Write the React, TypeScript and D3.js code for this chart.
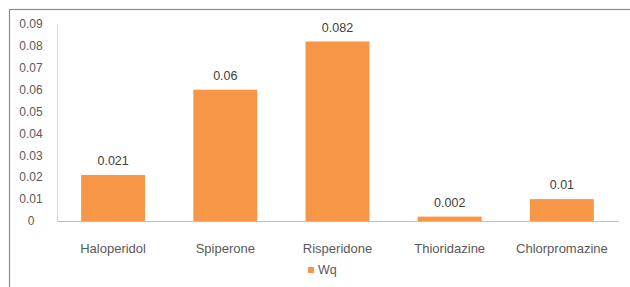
import React, { useEffect, useRef } from 'react';
import * as d3 from 'd3';

const categories = ['Haloperidol', 'Spiperone', 'Risperidone', 'Thioridazine', 'Chlorpromazine'];
const wqValues = [0.021, 0.06, 0.082, 0.002, 0.01];
const valueLabels = ['0.021', '0.06', '0.082', '0.002', '0.01'];
const yTicks = [0, 0.01, 0.02, 0.03, 0.04, 0.05, 0.06, 0.07, 0.08, 0.09];
const seriesName = 'Wq';

const App: React.FC = () => {
  const svgRef = useRef<SVGSVGElement>(null);

  useEffect(() => {
    if (!svgRef.current) return;
    const width = 630;
    const height = 287;
    const svg = d3.select(svgRef.current);
    svg.selectAll('*').remove();

    const font = '"Liberation Sans", Arial, sans-serif';
    const textColor = '#595959';
    const barColor = '#F79646';

    // outer chart border
    svg.append('rect')
      .attr('x', 9.5).attr('y', 9.5)
      .attr('width', 640).attr('height', 300)
      .attr('fill', 'white')
      .attr('stroke', '#8c8c8c').attr('stroke-width', 1.2);

    const left = 57;
    const right = 618;
    const top = 24;
    const bottom = 221;

    const x = d3.scaleBand<string>().domain(categories).range([left, right]).paddingInner(0.43).paddingOuter(0.215);
    const y = d3.scaleLinear().domain([0, 0.09]).range([bottom, top]);

    // y axis line
    svg.append('line')
      .attr('x1', left + 0.5).attr('x2', left + 0.5)
      .attr('y1', top).attr('y2', bottom)
      .attr('stroke', '#d9d9d9');

    // y tick labels
    svg.append('g').selectAll('text')
      .data(yTicks)
      .join('text')
      .attr('x', 31)
      .attr('y', d => y(d))
      .attr('dy', '0.35em')
      .attr('text-anchor', 'middle')
      .attr('font-family', font)
      .attr('font-size', 12)
      .attr('fill', textColor)
      .text(d => (d === 0 ? '0' : d3.format('.2f')(d)));

    // bars
    svg.append('g').selectAll('rect')
      .data(wqValues)
      .join('rect')
      .attr('x', (_, i) => x(categories[i]) as number)
      .attr('y', d => y(d))
      .attr('width', x.bandwidth())
      .attr('height', d => bottom - y(d))
      .attr('fill', barColor);

    // x axis line
    svg.append('line')
      .attr('x1', left).attr('x2', right)
      .attr('y1', bottom + 0.5).attr('y2', bottom + 0.5)
      .attr('stroke', '#bfbfbf');

    // data labels
    svg.append('g').selectAll('text')
      .data(wqValues)
      .join('text')
      .attr('x', (_, i) => (x(categories[i]) as number) + x.bandwidth() / 2)
      .attr('y', d => y(d) - 10)
      .attr('text-anchor', 'middle')
      .attr('font-family', font)
      .attr('font-size', 12.5)
      .attr('fill', '#404040')
      .text((_, i) => valueLabels[i]);

    // category labels
    svg.append('g').selectAll('text')
      .data(categories)
      .join('text')
      .attr('x', d => (x(d) as number) + x.bandwidth() / 2)
      .attr('y', 253)
      .attr('text-anchor', 'middle')
      .attr('font-family', font)
      .attr('font-size', 13)
      .attr('fill', textColor)
      .text(d => d);

    // legend
    svg.append('rect')
      .attr('x', 308).attr('y', 267)
      .attr('width', 6).attr('height', 6)
      .attr('fill', barColor);
    svg.append('text')
      .attr('x', 318).attr('y', 270)
      .attr('dy', '0.35em')
      .attr('font-family', font)
      .attr('font-size', 12.5)
      .attr('fill', textColor)
      .text(seriesName);

    svg.attr('width', width).attr('height', height);
  }, []);

  return (
    <svg ref={svgRef} width={630} height={287} style={{ position: 'absolute', left: 0, top: 0, background: 'white' }} />
  );
};

export default App;
